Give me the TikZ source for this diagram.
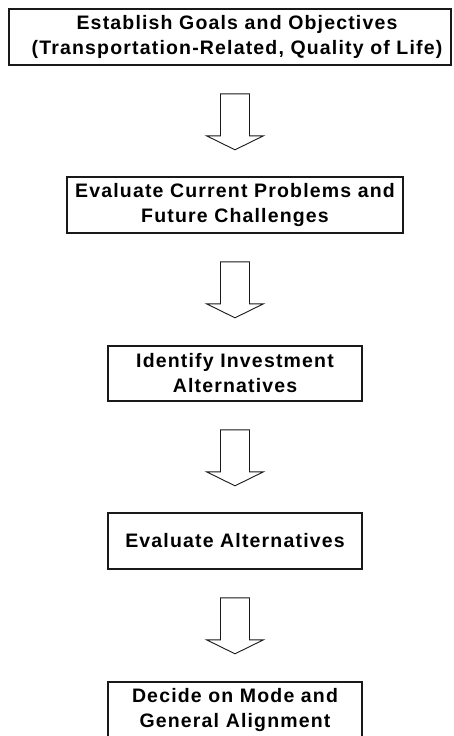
\documentclass[tikz,border=0pt]{standalone}
\usepackage{fontspec}
\setmainfont{Liberation Sans}[LetterSpace=6]
\usetikzlibrary{calc}
\tikzset{
  box/.style={draw=black!90, line width=1.6pt, minimum height=56pt, inner sep=0pt,
    align=center, font=\fontsize{19.5}{25}\selectfont\bfseries},
  arr/.style={draw=black!90, line width=0.9pt, fill=white, line join=miter},
  blockarrow/.pic={\draw[arr] (-14.5,0) -- (14.5,0) -- (14.5,42) -- (28.5,42) -- (0,56)
    -- (-28.5,42) -- (-14.5,42) -- cycle;}
}
\begin{document}
\begin{tikzpicture}[x=1pt,y=-1pt]
\useasboundingbox (0,0) rectangle (453,736);
\node[box, minimum width=442pt] (b1) at (230,37)
  {\hspace*{14pt}Establish Goals and Objectives\\\hspace*{14pt}(Transportation-Related, Quality of Life)};
\node[box, minimum width=336pt] (b2) at (235,205)
  {Evaluate Current Problems and\\Future Challenges};
\node[box, minimum width=254pt, minimum height=55pt] (b3) at (235,373.5)
  {Identify Investment\\Alternatives};
\node[box, minimum width=254pt] (b4) at (235,541)
  {Evaluate Alternatives};
\node[box, minimum width=254pt] (b5) at (235,710)
  {Decide on Mode and\\General Alignment};
\pic at ([yshift=-28pt]b1.south -| b2.north) {blockarrow};
\pic at ([yshift=-28pt]b2.south) {blockarrow};
\pic at ([yshift=-28pt]b3.south) {blockarrow};
\pic at ([yshift=-28pt]b4.south) {blockarrow};
\end{tikzpicture}
\end{document}
